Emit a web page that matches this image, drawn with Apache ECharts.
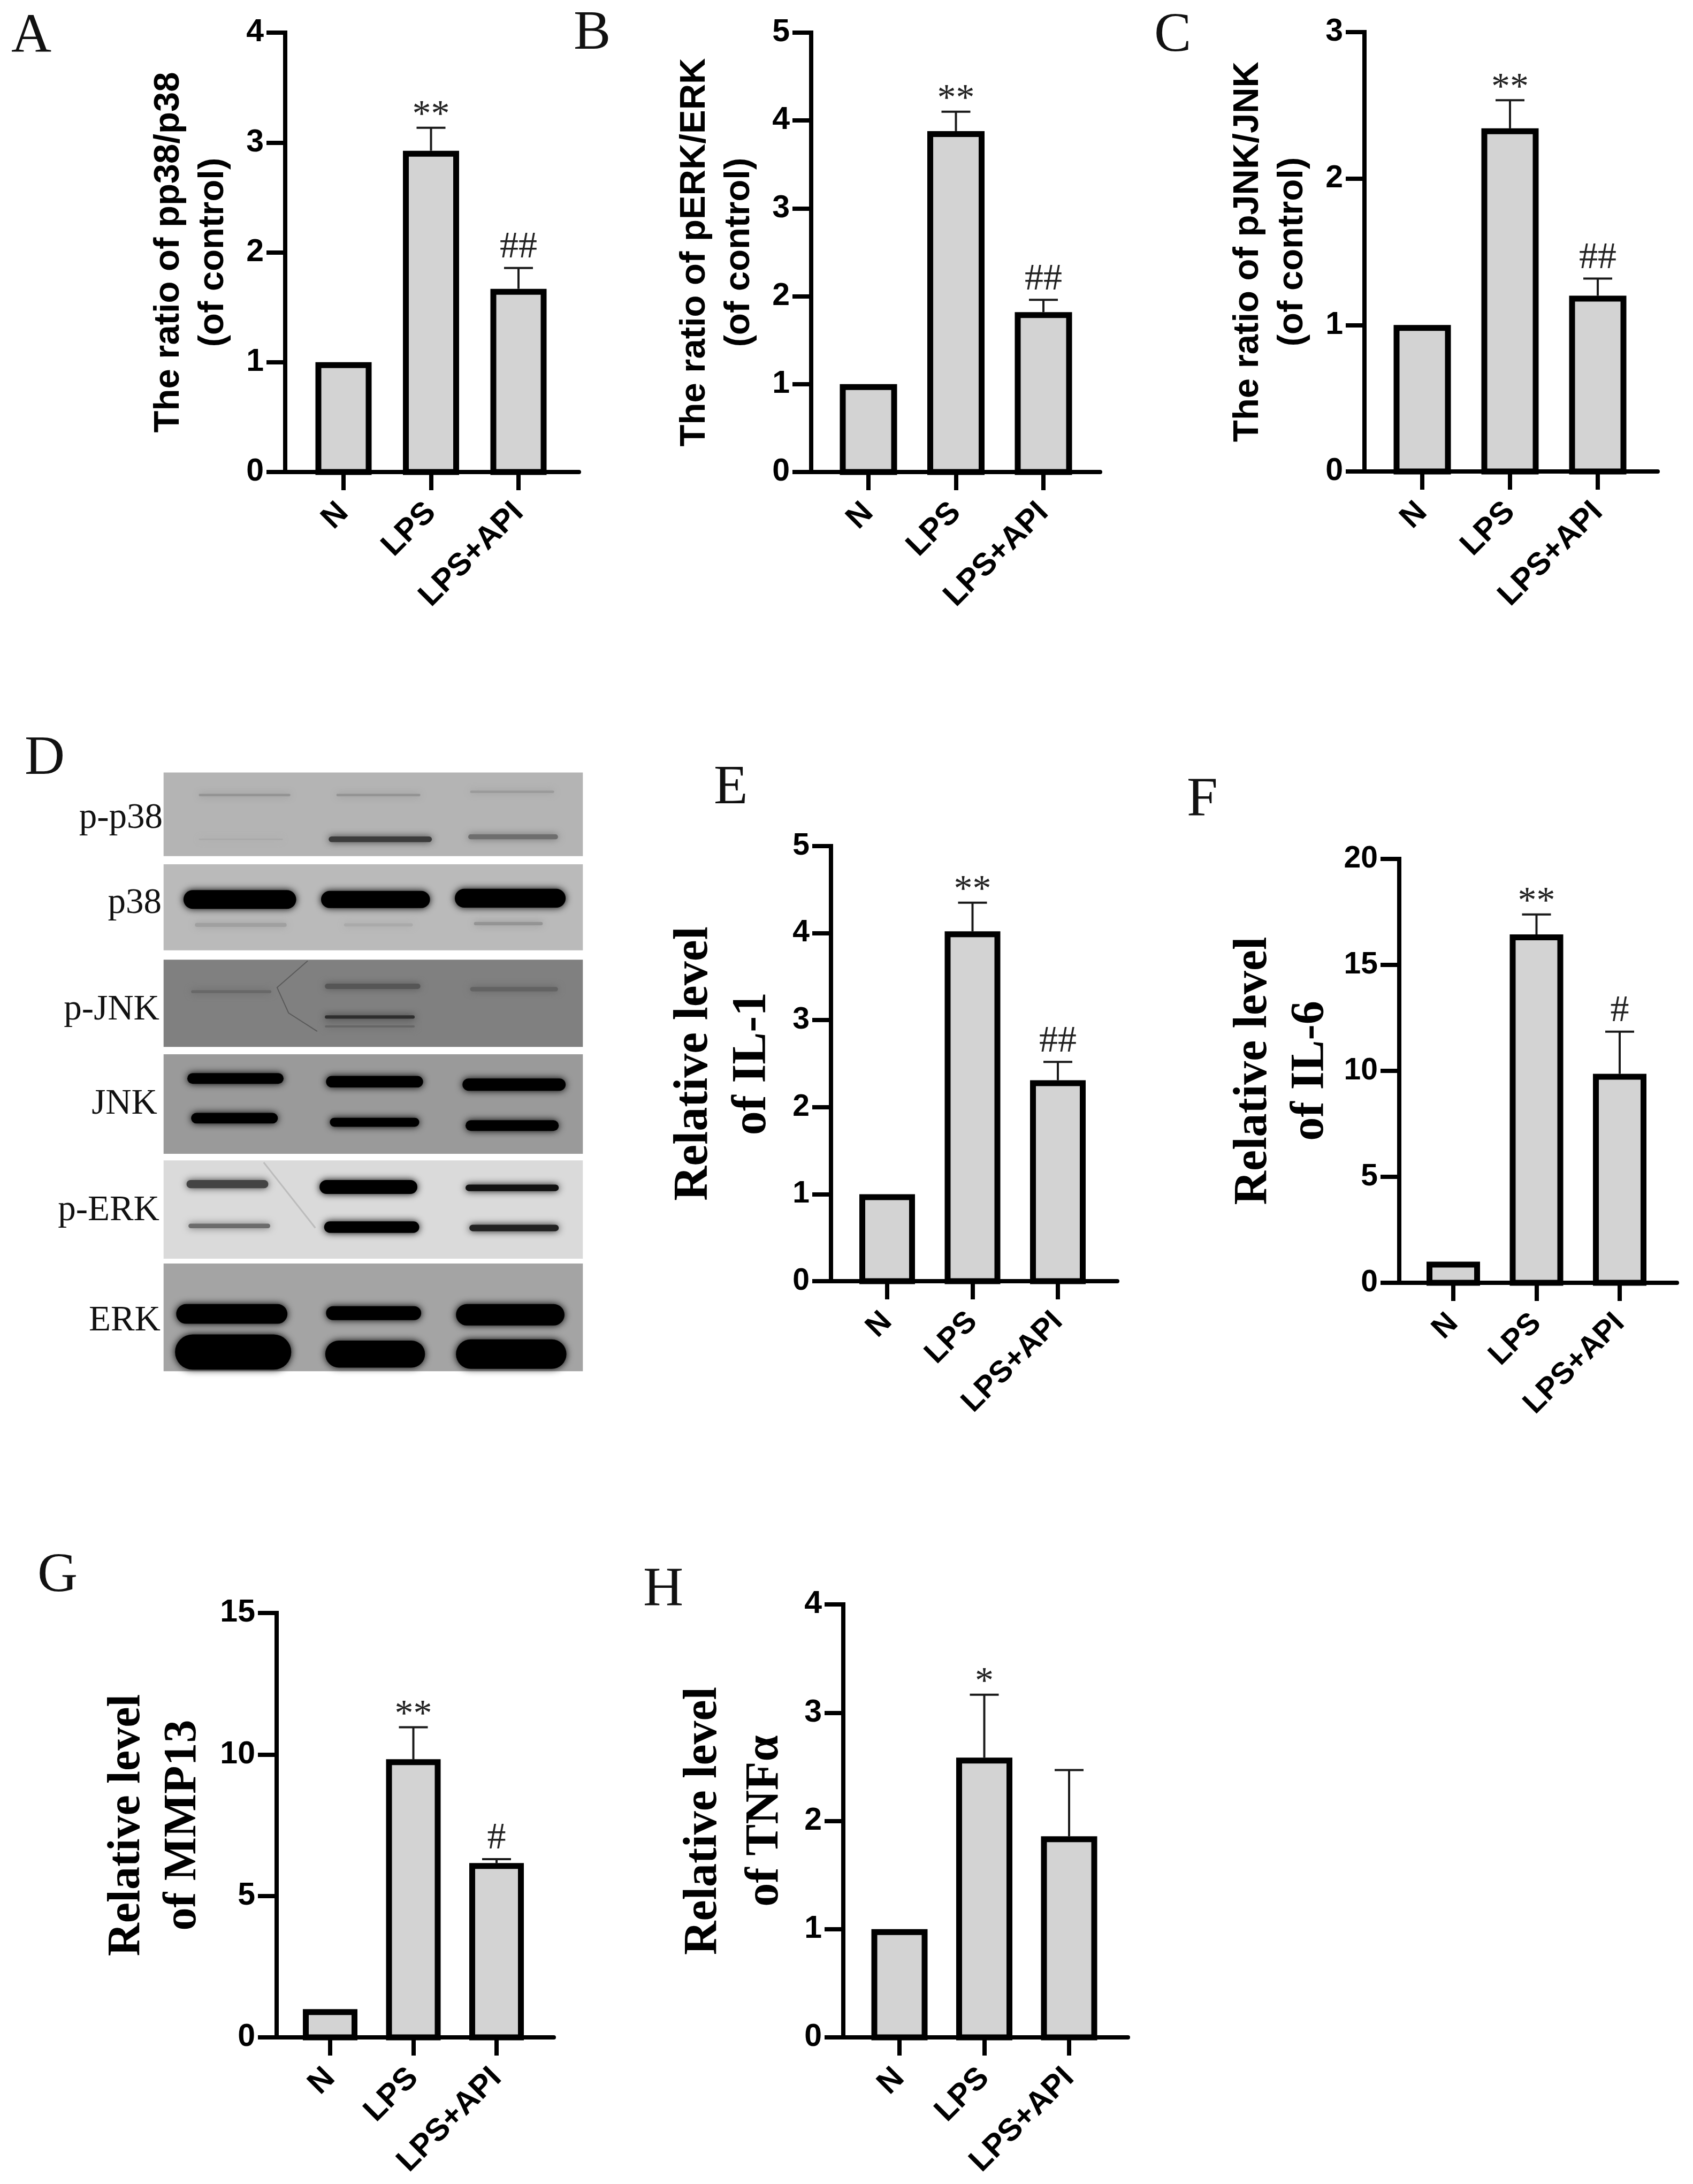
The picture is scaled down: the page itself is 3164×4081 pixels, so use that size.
<!DOCTYPE html>
<html><head><meta charset="utf-8">
<style>html,body{margin:0;padding:0;background:#fff}#c{width:3164px;height:4081px}</style>
<script src="https://cdn.jsdelivr.net/npm/echarts@6/dist/echarts.min.js"></script>
</head><body><div id="c"></div>
<script>
const categories = ['N', 'LPS', 'LPS+API'];

const valuesA = [1, 2.925, 1.668];
const errorTopA = [null, 3.134, 1.858];
const marksA = ['', '**', '##'];
const valuesB = [1, 3.88, 1.82];
const errorTopB = [null, 4.10, 1.96];
const marksB = ['', '**', '##'];
const valuesC = [1, 2.343, 1.20];
const errorTopC = [null, 2.535, 1.317];
const marksC = ['', '**', '##'];
const valuesE = [1, 4.02, 2.31];
const errorTopE = [null, 4.35, 2.52];
const marksE = ['', '**', '##'];
const valuesF = [1, 16.44, 9.86];
const errorTopF = [null, 17.38, 11.85];
const marksF = ['', '**', '#'];
const valuesG = [1, 9.83, 6.16];
const errorTopG = [null, 10.96, 6.30];
const marksG = ['', '**', '#'];
const valuesH = [1, 2.585, 1.858];
const errorTopH = [null, 3.166, 2.47];
const marksH = ['', '*', ''];

const yMaxes = { A: 4, B: 5, C: 3, E: 5, F: 20, G: 15, H: 4 };
const yIntervals = { A: 1, B: 1, C: 1, E: 1, F: 5, G: 5, H: 1 };
const yTitles = {
  A: 'The ratio of pp38/p38\n(of control)',
  B: 'The ratio of pERK/ERK\n(of control)',
  C: 'The ratio of pJNK/JNK\n(of control)',
  E: 'Relative level\nof IL-1',
  F: 'Relative level\nof IL-6',
  G: 'Relative level\nof MMP13',
  H: 'Relative level\nof TNF\u03b1'
};
const panelData = {
  A: [valuesA, errorTopA, marksA], B: [valuesB, errorTopB, marksB], C: [valuesC, errorTopC, marksC],
  E: [valuesE, errorTopE, marksE], F: [valuesF, errorTopF, marksF], G: [valuesG, errorTopG, marksG],
  H: [valuesH, errorTopH, marksH]
};

// layout only: axis x, top y, zero y, right end, first and last category centre, bar width
const layouts = {
  A: { ax: 533, top: 61, y0: 882, end: 1082, c0: 642, c2: 969, bw: 105, font: 59, tf: 67, tl: 83, gap: 93, serif: false },
  B: { ax: 1516, top: 61, y0: 882, end: 2056, c0: 1623, c2: 1950, bw: 107, font: 59, tf: 67, tl: 83, gap: 93, serif: false },
  C: { ax: 2550, top: 60, y0: 881, end: 3098, c0: 2658, c2: 2986, bw: 107, font: 59, tf: 67, tl: 83, gap: 93, serif: false },
  E: { ax: 1553, top: 1581, y0: 2394, end: 2088, c0: 1658, c2: 1977, bw: 104, font: 57, tf: 90, tl: 109, gap: 92, serif: true },
  F: { ax: 2615, top: 1605, y0: 2397, end: 3134, c0: 2716, c2: 3027, bw: 100, font: 57, tf: 88, tl: 106, gap: 113, serif: true },
  G: { ax: 517, top: 3014, y0: 3807, end: 1035, c0: 617, c2: 928, bw: 102, font: 59, tf: 86, tl: 105, gap: 122, serif: true },
  H: { ax: 1576, top: 2998, y0: 3807, end: 2108, c0: 1681, c2: 1998, bw: 105, font: 59, tf: 88, tl: 115, gap: 88, serif: true }
};

const SANS = '"Liberation Sans", Arial, sans-serif';
const SERIF = '"Liberation Serif", "Times New Roman", serif';
const keys = Object.keys(layouts);
const grids = [], xAxes = [], yAxes = [], series = [];

keys.forEach((k, idx) => {
  const L = layouts[k];
  const [vals, errs, marks] = panelData[k];
  const s = (L.c2 - L.c0) / 2;
  grids.push({ left: L.ax, top: L.top, width: L.end - L.ax, height: L.y0 - L.top, containLabel: false });
  xAxes.push({
    gridIndex: idx, type: 'value',
    min: (L.ax - L.c0) / s, max: 2 + (L.end - L.c2) / s,
    splitLine: { show: false },
    axisLine: { show: true, onZero: false, lineStyle: { color: '#000', width: 8 } },
    axisTick: { show: true, length: 34, customValues: [0, 1, 2], lineStyle: { color: '#000', width: 8 } },
    axisLabel: {
      customValues: [0, 1, 2], rotate: 45, margin: 67, color: '#000',
      fontFamily: SANS, fontWeight: 'bold', fontSize: L.font,
      formatter: v => categories[Math.round(v)]
    }
  });
  yAxes.push({
    gridIndex: idx, type: 'value', min: 0, max: yMaxes[k], interval: yIntervals[k],
    splitLine: { show: false },
    axisLine: { show: true, onZero: false, lineStyle: { color: '#000', width: 8, cap: 'square' } },
    axisTick: { show: true, length: 35, lineStyle: { color: '#000', width: 8 } },
    axisLabel: { margin: 40, padding: [8, 0, 0, 0], color: '#000', fontFamily: SANS, fontWeight: 'bold', fontSize: L.font },
    name: yTitles[k], nameLocation: 'middle', nameRotate: 90, nameGap: L.gap,
    nameTextStyle: {
      color: '#000', fontFamily: L.serif ? SERIF : SANS, fontWeight: 'bold',
      fontSize: L.tf, lineHeight: L.tl
    }
  });
  const data = vals.map((v, i) => [i, v, errs[i] === null ? v : errs[i]]);
  series.push({
    type: 'custom', xAxisIndex: idx, yAxisIndex: idx, clip: false, silent: true,
    encode: { x: 0, y: 1 }, data,
    renderItem(params, api) {
      const i = params.dataIndex;
      const xv = api.value(0);
      const top = api.coord([xv, api.value(1)]);
      const base = api.coord([xv, 0]);
      const err = api.coord([xv, api.value(2)]);
      const sw = 11, cx = top[0], children = [];
      if (errs[i] !== null) {
        children.push({ type: 'line', shape: { x1: cx, y1: top[1], x2: cx, y2: err[1] }, style: { stroke: '#1a1a1a', lineWidth: 4 } });
        children.push({ type: 'line', shape: { x1: cx - 27, y1: err[1], x2: cx + 27, y2: err[1] }, style: { stroke: '#1a1a1a', lineWidth: 4 } });
      }
      children.push({
        type: 'rect',
        shape: { x: cx - L.bw / 2 + sw / 2, y: top[1] + sw / 2, width: L.bw - sw, height: base[1] - top[1] - sw / 2 },
        style: { fill: '#d3d3d3', stroke: '#000', lineWidth: sw }
      });
      if (marks[i]) {
        const star = marks[i][0] === '*';
        children.push({
          type: 'text',
          style: {
            text: marks[i], x: cx, y: err[1] - (star ? 22 : 38),
            font: '70px ' + SERIF, fill: '#222', align: 'center', verticalAlign: 'middle'
          }
        });
      }
      return { type: 'group', children };
    }
  });
});

// Panel D: blot picture painted as plain shapes
const zx = x => x / 1.4;
const zy = y => 1380 + y / 1.3067;
const blotRows = [
  [83, 287, '#b4b4b4'], [307, 517, '#bababa'], [540, 753, '#808080'],
  [771, 1014, '#9a9a9a'], [1030, 1270, '#dadada'], [1282, 1545, '#a4a4a4']
];
const blotBands = [
  [520,760,138,6,'#949494'],[880,1100,138,6,'#949494'],[1230,1450,130,6,'#9a9a9a'],
  [860,1130,246,14,'#3c3c3c'],[1225,1460,240,12,'#6e6e6e'],[520,740,246,3,'#a8a8a8'],
  [480,775,393,46,'#000'],[840,1125,393,42,'#000'],[1190,1480,390,46,'#000'],
  [510,750,455,10,'#a0a0a0'],[900,1080,455,8,'#aaaaaa'],[1240,1420,452,8,'#949494'],
  [500,710,618,7,'#686868'],[850,1100,605,13,'#565656'],[1230,1460,612,11,'#636363'],
  [850,1085,680,8,'#2e2e2e'],[850,1085,703,5,'#666666'],
  [490,742,830,26,'#000'],[853,1107,838,28,'#000'],[1210,1480,845,30,'#000'],
  [500,727,927,26,'#000'],[863,1097,937,22,'#000'],[1218,1462,945,26,'#000'],
  [488,702,1088,20,'#444'],[836,1092,1095,34,'#000'],[1218,1462,1097,16,'#111'],
  [493,707,1190,11,'#6c6c6c'],[848,1097,1193,28,'#000'],[1228,1462,1195,16,'#222'],
  [461,752,1405,48,'#000'],[853,1102,1403,34,'#000'],[1193,1477,1407,52,'#000'],
  [458,762,1498,86,'#000'],[851,1112,1503,66,'#000'],[1193,1482,1503,72,'#000']
];
const blotLabels = [
  ['p-p38', 304, 1529], ['p38', 302, 1688], ['p-JNK', 298, 1887],
  ['JNK', 294, 2063], ['p-ERK', 298, 2262], ['ERK', 300, 2468]
];
const panelLetters = [
  ['A', 21, 64], ['B', 1072, 58], ['C', 2157, 62], ['D', 46, 1413],
  ['E', 1334, 1468], ['F', 2218, 1490], ['G', 70, 2940], ['H', 1202, 2967]
];

const graphics = [];
blotRows.forEach(r => graphics.push({
  type: 'rect', z: 1, shape: { x: zx(428), y: zy(r[0]), width: zx(1525) - zx(428), height: zy(r[1]) - zy(r[0]) },
  style: { fill: r[2] }
}));
blotBands.forEach(b => graphics.push({
  type: 'rect', z: 2,
  shape: { x: zx(b[0]), y: zy(b[2] - b[3] / 2), width: zx(b[1]) - zx(b[0]), height: b[3] / 1.3067, r: b[3] / 2.6 },
  style: { fill: b[4], shadowBlur: 14, shadowColor: b[4] }
}));
graphics.push({
  type: 'polyline', z: 2,
  shape: { points: [[zx(805), zy(543)], [zx(725), zy(608)], [zx(755), zy(670)], [zx(830), zy(715)]] },
  style: { stroke: '#5a5a5a', fill: null, lineWidth: 2 }
});
graphics.push({
  type: 'polyline', z: 2,
  shape: { points: [[zx(690), zy(1035)], [zx(825), zy(1195)]] },
  style: { stroke: '#bcbcbc', fill: null, lineWidth: 3 }
});
blotLabels.forEach(t => graphics.push({
  type: 'text', z: 3, x: t[1], y: t[2],
  style: { text: t[0], font: '67px ' + SERIF, fill: '#111', align: 'right', verticalAlign: 'middle' }
}));
panelLetters.forEach(t => graphics.push({
  type: 'text', z: 3, x: t[1], y: t[2] + 6,
  style: { text: t[0], font: '104px ' + SERIF, fill: '#111', align: 'left', verticalAlign: 'middle' }
}));

const chart = echarts.init(document.getElementById('c'), null, { renderer: 'canvas', width: 3164, height: 4081 });
chart.setOption({
  animation: false, backgroundColor: '#fff',
  grid: grids, xAxis: xAxes, yAxis: yAxes, series,
  graphic: { elements: graphics }
});
</script></body></html>
